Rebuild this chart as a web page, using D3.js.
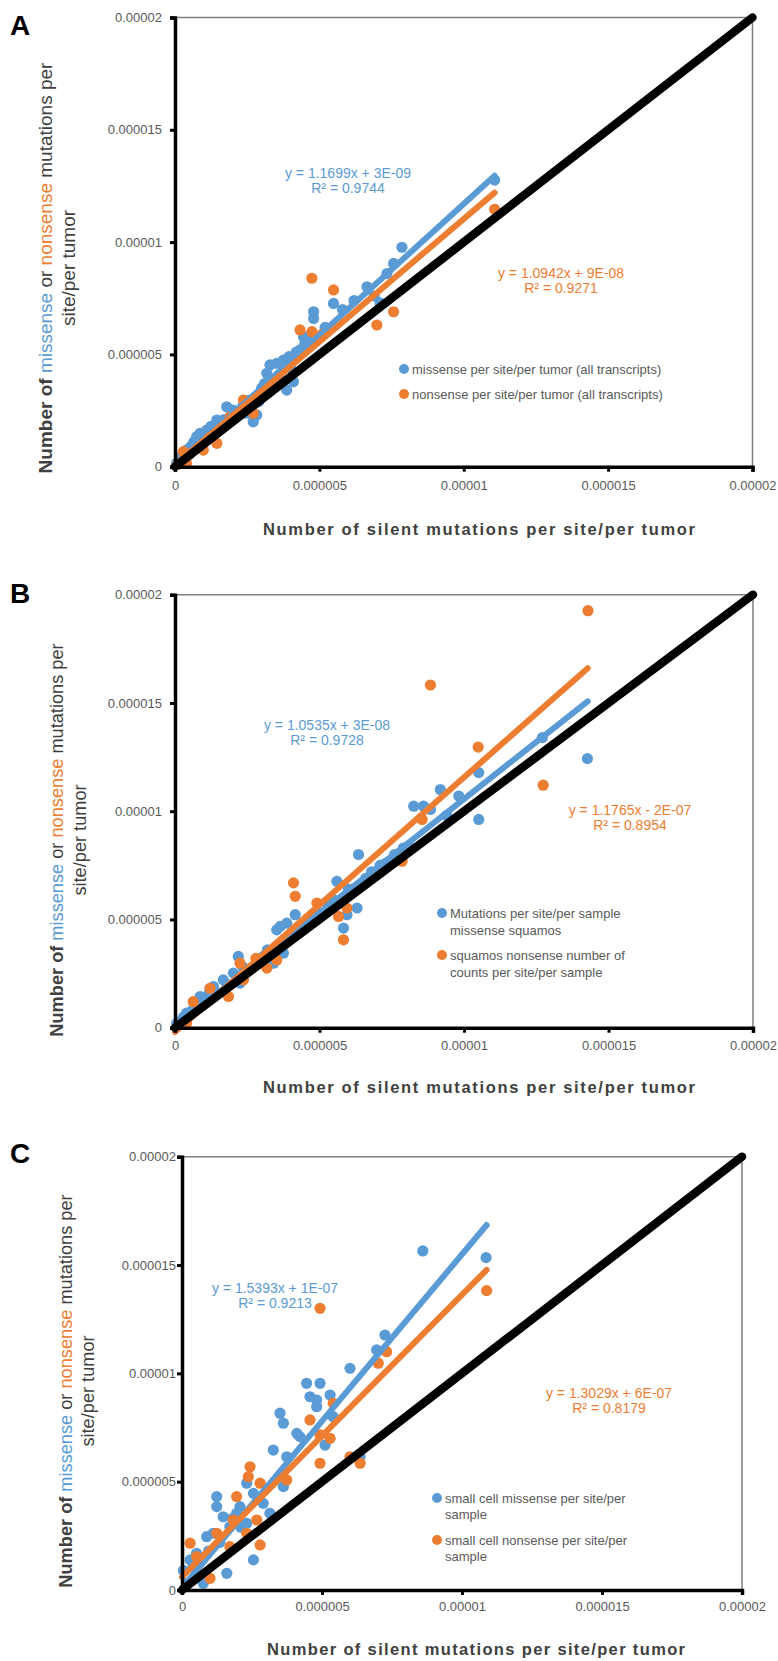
<!DOCTYPE html>
<html>
<head>
<meta charset="utf-8">
<script src="https://cdn.jsdelivr.net/npm/d3@7"></script>
<style>
  body { margin: 0; background: #fff; }
  svg text { font-family: "Liberation Sans", Arial, sans-serif; }
</style>
</head>
<body>
<div id="chart"></div>
<script>
// all mutation rates below are in units of 1e-6 (per site / per tumor)
const tickValues = [0, 5, 10, 15, 20];
const tickLabels = ['0', '0.000005', '0.00001', '0.000015', '0.00002'];
const xTitle = 'Number of silent mutations per site/per tumor';

// panel A - all transcripts
const aMissense = [[0.06,0.15],[0.15,0.3],[0.25,0.5],[0.3,0.6],[0.4,0.74],[0.5,0.55],[0.55,0.9],[0.65,1.1],
  [0.75,1.34],[0.87,1.49],[0.9,1.0],[1.0,1.2],[1.1,1.63],[1.15,1.35],[1.25,1.8],[1.3,1.5],[1.45,2.08],
  [1.6,1.9],[1.7,2.1],[1.79,2.67],[1.95,2.4],[2.02,2.52],[2.2,2.3],[2.35,2.7],[2.48,2.38],[2.55,2.95],
  [2.71,2.0],[2.83,2.3],[2.9,2.9],[3.0,3.5],[3.1,3.7],[3.18,4.16],[3.29,4.53],[3.4,3.9],[3.52,4.6],
  [3.6,4.1],[3.76,4.75],[3.87,3.41],[3.95,4.9],[4.0,4.4],[4.1,3.78],[4.2,5.1],[4.33,5.2],[4.45,5.79],
  [4.5,5.5],[4.6,5.6],[4.8,6.6],[4.8,6.9],[5.2,6.2],[5.49,7.27],[5.8,7.0],[6.2,7.4],[6.65,8.01],[6.9,7.6],
  [7.1,7.3],[7.34,8.6],[7.57,9.05],[7.86,9.77],[11.07,12.76]];
const aNonsense = [[0.1,0.1],[0.29,0.67],[0.4,0.15],[0.98,0.74],[1.2,1.3],[1.45,1.04],[1.9,2.2],[2.37,2.97],
  [2.71,2.38],[3.3,3.6],[4.33,6.09],[4.74,6.01],[4.74,8.39],[5.1,5.9],[5.49,7.87],[6.99,6.31],[7.57,6.9],
  [11.07,11.46]];
const aFits = [
  { slope: 1.1699, intercept: 0.003, xMax: 11.07, eq: 'y = 1.1699x + 3E-09', r2: 'R² = 0.9744' },
  { slope: 1.0942, intercept: 0.09, xMax: 11.07, eq: 'y = 1.0942x + 9E-08', r2: 'R² = 0.9271' }
];
const aLegend = [['missense per site/per tumor (all transcripts)'], ['nonsense per site/per tumor (all transcripts)']];

// panel B - squamous
const bMissense = [[0.06,0.2],[0.2,0.3],[0.3,0.5],[0.4,0.67],[0.6,0.8],[0.7,1.1],[0.87,0.97],[0.87,1.44],
  [1.0,1.4],[1.1,1.2],[1.2,1.65],[1.33,1.9],[1.5,1.6],[1.67,2.21],[1.8,2.0],[2.02,2.52],[2.19,3.29],
  [2.25,2.06],[2.35,2.8],[2.5,2.6],[2.71,2.82],[2.9,3.0],[3.06,3.29],[3.2,3.6],[3.35,3.5],[3.41,2.98],
  [3.52,4.52],[3.64,4.68],[3.75,3.44],[3.87,4.83],[4.16,5.22],[4.3,4.7],[4.5,4.8],[4.7,5.0],[5.0,5.3],
  [5.3,5.6],[5.5,5.9],[5.6,6.76],[5.83,4.6],[5.95,5.22],[6.0,6.4],[6.3,5.53],[6.35,8.0],[6.6,6.9],
  [6.8,7.2],[7.1,7.5],[7.3,7.6],[7.6,8.0],[7.9,8.3],[8.1,8.4],[8.26,10.23],[8.6,10.23],[8.84,10.08],
  [9.18,11.0],[9.4,9.8],[9.82,10.7],[10.51,11.78],[10.51,9.62],[12.71,13.4],[14.27,12.43]];
const bNonsense = [[0.4,0.2],[0.63,1.2],[1.21,1.82],[1.85,1.44],[2.25,2.98],[2.37,2.21],[2.8,3.2],[3.18,2.75],
  [3.52,3.13],[4.1,6.69],[4.16,6.07],[4.91,5.76],[5.66,5.14],[5.83,4.06],[5.95,5.53],[7.86,7.69],[8.55,9.62],
  [8.84,15.83],[10.49,12.96],[12.74,11.2],[14.29,19.26]];
const bFits = [
  { slope: 1.0535, intercept: 0.03, xMax: 14.28, eq: 'y = 1.0535x + 3E-08', r2: 'R² = 0.9728' },
  { slope: 1.1765, intercept: -0.2, xMax: 14.28, eq: 'y = 1.1765x - 2E-07', r2: 'R² = 0.8954' }
];
const bLegend = [['Mutations per site/per sample', 'missense squamos'], ['squamos nonsense number of', 'counts per site/per sample']];

// panel C - small cell
const cMissense = [[0.05,0.9],[0.17,0.31],[0.29,1.39],[0.4,1.1],[0.52,0.77],[0.52,1.69],[0.76,0.31],[0.88,2.46],
  [0.95,1.8],[1.12,2.62],[1.24,3.85],[1.24,4.31],[1.35,2.2],[1.47,3.38],[1.6,0.77],[1.71,2.92],[1.8,3.3],
  [1.95,3.54],[2.07,3.85],[2.1,2.9],[2.31,3.08],[2.31,4.93],[2.55,4.46],[2.55,1.39],[2.9,4.0],[3.14,3.54],
  [3.26,6.46],[3.5,8.16],[3.62,7.7],[3.62,4.77],[3.74,6.15],[4.1,7.23],[4.21,7.08],[4.45,9.54],[4.57,8.92],
  [4.81,8.77],[4.81,8.46],[4.93,9.54],[5.11,6.69],[5.29,9.0],[5.4,8.0],[6.0,10.23],[6.36,6.15],[6.95,11.08],
  [7.25,11.77],[8.6,15.65],[10.86,15.34]];
const cNonsense = [[0.29,2.16],[0.52,1.54],[1.0,0.54],[1.24,2.62],[1.71,2.0],[1.83,3.23],[1.95,4.31],[2.31,2.62],
  [2.37,5.23],[2.43,5.69],[2.67,3.23],[2.79,2.08],[2.79,4.93],[3.74,5.08],[4.57,7.85],[4.93,5.85],[4.93,7.16],
  [4.93,13.0],[5.29,7.0],[5.4,8.62],[6.0,6.15],[6.36,5.85],[7.01,10.47],[7.31,11.0],[10.88,13.82]];
const cFits = [
  { slope: 1.5393, intercept: 0.1, xMax: 10.88, eq: 'y = 1.5393x + 1E-07', r2: 'R² = 0.9213' },
  { slope: 1.3029, intercept: 0.6, xMax: 10.88, eq: 'y = 1.3029x + 6E-07', r2: 'R² = 0.8179' }
];
const cLegend = [['small cell missense per site/per', 'sample'], ['small cell nonsense per site/per', 'sample']];

const colors = ['#5b9bd5', '#ed7d31'];
const textGrey = '#404040';

const svg = d3.select('#chart').append('svg')
  .attr('width', 778)
  .attr('height', 1661)
  .style('background', '#fff');

const panels = [
  { letter: 'A', letterY: 35, data: [aMissense, aNonsense], fits: aFits, legend: aLegend,
    left: 175, right: 752.5, top: 17.5, bottom: 466.7, ylabGap: 13, xlabY: 489.5,
    titleY: 535, titleX: [263, 695], yt: [52, 75, 268, 19],
    legX: 404, legY: [369, 394], legLH: 17, eqPos: [[348, 178], [561, 278]] },
  { letter: 'B', letterY: 603, data: [bMissense, bNonsense], fits: bFits, legend: bLegend,
    left: 175, right: 753, top: 594.7, bottom: 1027.7, ylabGap: 13, xlabY: 1049.5,
    titleY: 1093, titleX: [263, 695], yt: [63, 86, 840, 18.2],
    legX: 442, legY: [913, 955], legLH: 17, eqPos: [[327, 730], [630, 815]] },
  { letter: 'C', letterY: 1163, data: [cMissense, cNonsense], fits: cFits, legend: cLegend,
    left: 182, right: 742, top: 1156.7, bottom: 1590, ylabGap: 6, xlabY: 1611,
    titleY: 1655, titleX: [267, 685], yt: [72, 94, 1391, 18.2],
    legX: 437, legY: [1498, 1540], legLH: 16, eqPos: [[275, 1293], [609, 1398]] }
];

panels.forEach(p => {
  const g = svg.append('g');
  const x = d3.scaleLinear().domain([0, 20]).range([p.left, p.right]);
  const y = d3.scaleLinear().domain([0, 20]).range([p.bottom, p.top]);

  // panel letter
  g.append('text').attr('x', 10).attr('y', p.letterY)
    .attr('font-size', 28).attr('font-weight', 'bold').attr('fill', '#000')
    .text(p.letter);

  // thin top/right frame
  g.append('path')
    .attr('d', `M${p.left},${p.top}H${p.right}V${p.bottom}`)
    .attr('fill', 'none').attr('stroke', '#7f7f7f').attr('stroke-width', 1.5);

  // scatter points
  p.data.forEach((pts, i) => {
    g.append('g').selectAll('circle').data(pts).enter().append('circle')
      .attr('cx', d => x(d[0]))
      .attr('cy', d => y(d[1]))
      .attr('r', 5.6)
      .attr('fill', colors[i]);
  });

  // trend lines
  const line = d3.line().x(d => x(d[0])).y(d => y(d[1]));
  p.fits.forEach((f, i) => {
    g.append('path')
      .datum([[0, f.intercept], [f.xMax, f.slope * f.xMax + f.intercept]])
      .attr('d', line)
      .attr('stroke', colors[i]).attr('stroke-width', 6)
      .attr('stroke-linecap', 'round').attr('fill', 'none');
  });

  // y = x reference
  g.append('path')
    .datum([[0, 0], [20, 20]])
    .attr('d', line)
    .attr('stroke', '#000').attr('stroke-width', 8.5)
    .attr('stroke-linecap', 'round').attr('fill', 'none');

  // axes
  const yAxis = d3.axisLeft(y).tickValues(tickValues)
    .tickFormat((d, i) => tickLabels[i]).tickSize(5).tickPadding(p.ylabGap - 5);
  const ya = g.append('g').attr('transform', `translate(${p.left},0)`).call(yAxis);
  const xAxis = d3.axisBottom(x).tickValues(tickValues)
    .tickFormat((d, i) => tickLabels[i]).tickSize(5).tickPadding(0);
  const xa = g.append('g').attr('transform', `translate(0,${p.bottom})`).call(xAxis);
  [ya, xa].forEach(a => {
    a.select('.domain').attr('stroke', '#000').attr('stroke-width', 3.5);
    a.selectAll('.tick line').attr('stroke', '#000').attr('stroke-width', 3);
    a.selectAll('.tick text').attr('fill', '#595959').attr('font-size', 13)
      .attr('font-family', '"Liberation Sans", Arial, sans-serif');
  });
  xa.selectAll('.tick text').attr('y', null).attr('dy', null)
    .attr('transform', `translate(0,${p.xlabY - p.bottom})`);

  // x title
  g.append('text')
    .attr('x', p.titleX[0]).attr('y', p.titleY)
    .attr('textLength', p.titleX[1] - p.titleX[0]).attr('lengthAdjust', 'spacing')
    .attr('font-size', 16.5).attr('font-weight', 'bold').attr('fill', textGrey)
    .text(xTitle);

  // y title, two rotated lines
  const [l1x, l2x, cy, fs] = p.yt;
  const t1 = g.append('text')
    .attr('transform', `translate(${l1x},${cy}) rotate(-90)`)
    .attr('text-anchor', 'middle').attr('font-size', fs).attr('fill', textGrey);
  t1.append('tspan').attr('font-weight', 'bold').text('Number of ');
  t1.append('tspan').attr('fill', colors[0]).text('missense');
  t1.append('tspan').text(' or ');
  t1.append('tspan').attr('fill', colors[1]).text('nonsense');
  t1.append('tspan').text(' mutations per');
  g.append('text')
    .attr('transform', `translate(${l2x},${cy}) rotate(-90)`)
    .attr('text-anchor', 'middle').attr('font-size', fs).attr('fill', textGrey)
    .text('site/per tumor');

  // regression equations
  p.fits.forEach((f, i) => {
    const [ex, ey] = p.eqPos[i];
    const t = g.append('text').attr('text-anchor', 'middle')
      .attr('font-size', 14).attr('fill', colors[i]);
    t.append('tspan').attr('x', ex).attr('y', ey).text(f.eq);
    t.append('tspan').attr('x', ex).attr('y', ey + 15).text(f.r2);
  });

  // legend
  p.legend.forEach((lines, i) => {
    const ly = p.legY[i];
    g.append('circle').attr('cx', p.legX).attr('cy', ly).attr('r', 5).attr('fill', colors[i]);
    const t = g.append('text').attr('font-size', 13).attr('fill', '#595959')
      .attr('font-family', 'Lato, "Open Sans", sans-serif');
    lines.forEach((s, j) => {
      t.append('tspan').attr('x', p.legX + 8).attr('y', ly + 4.5 + j * p.legLH).text(s);
    });
  });
});
</script>
</body>
</html>
